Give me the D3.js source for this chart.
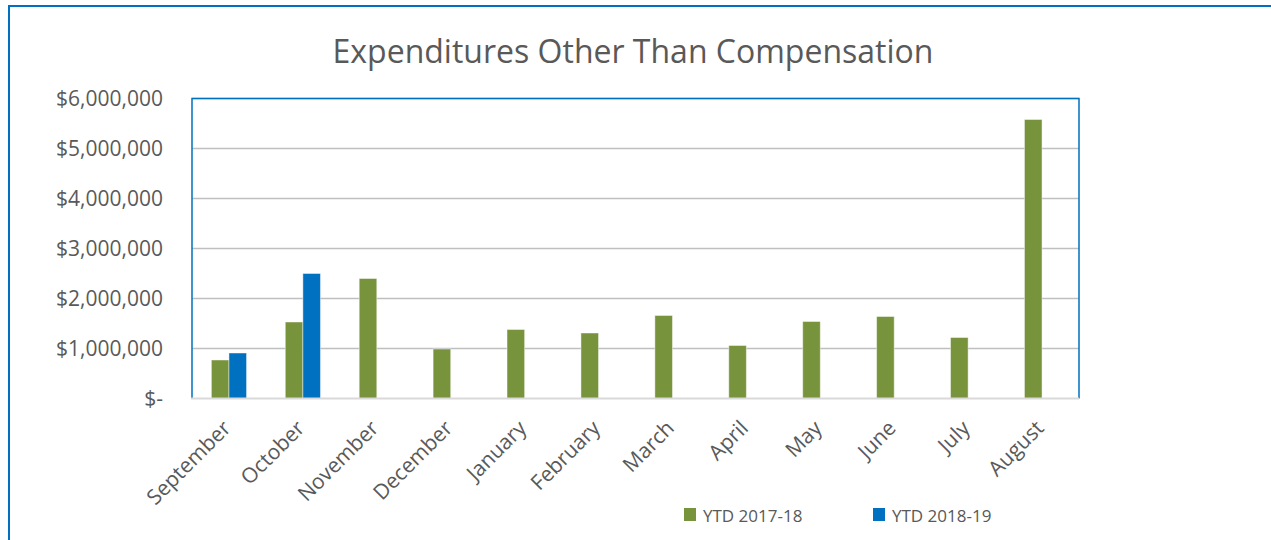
<!DOCTYPE html>
<html>
<head>
<meta charset="utf-8">
<script src="https://cdn.jsdelivr.net/npm/d3@7"></script>
<style>
  html, body { margin: 0; padding: 0; background: #fff; }
  svg { display: block; font-family: "Open Sans", sans-serif; }
</style>
</head>
<body>
<svg id="chart" width="1271" height="540"></svg>
<script>
const months = ["September","October","November","December","January","February","March","April","May","June","July","August"];
const seriesNames = ["YTD 2017-18", "YTD 2018-19"];
const ytd2017_18 = [770000, 1530000, 2400000, 990000, 1380000, 1310000, 1660000, 1060000, 1540000, 1640000, 1220000, 5580000];
const ytd2018_19 = [910000, 2500000, null, null, null, null, null, null, null, null, null, null];
const yTicks = [0, 1000000, 2000000, 3000000, 4000000, 5000000, 6000000];
const colors = ["#77933C", "#0070C0"];
const titleText = "Expenditures Other Than Compensation";

const svg = d3.select("#chart");
const W = 1271, H = 540;
const plot = {left: 192, right: 1079, top: 98.5, bottom: 398.5};

// outer frame
svg.append("rect").attr("x", 9).attr("y", 6).attr("width", W + 20).attr("height", H + 20)
  .attr("fill", "#fff").attr("stroke", "#0070C0").attr("stroke-width", 2);

// title
svg.append("text").attr("x", 633).attr("y", 63).attr("text-anchor", "middle")
  .attr("font-size", 32).attr("fill", "#595959").text(titleText);

const y = d3.scaleLinear().domain([0, 6000000]).range([plot.bottom, plot.top]);
const x0 = d3.scaleBand().domain(months).range([plot.left, plot.right])
  .paddingInner(0.524).paddingOuter(0.262);
const x1 = d3.scaleBand().domain(seriesNames).range([0, x0.bandwidth()]).padding(0);

// gridlines
svg.append("g").selectAll("line").data(yTicks.filter(d => d > 0)).join("line")
  .attr("x1", plot.left).attr("x2", plot.right)
  .attr("y1", d => y(d)).attr("y2", d => y(d))
  .attr("stroke", "#BFBFBF").attr("stroke-width", 1.5);

// y axis labels
const fmt = d => d === 0 ? "$-" : "$" + d3.format(",")(d);
const yAxis = d3.axisLeft(y).tickValues(yTicks).tickFormat(fmt).tickSize(0).tickPadding(29);
const yg = svg.append("g").attr("transform", `translate(${plot.left},0)`).call(yAxis);
yg.select(".domain").remove();
yg.selectAll("text").attr("font-size", 21).attr("fill", "#595959")
  .attr("font-family", "Open Sans, sans-serif");

// bars
const data = months.map((m, i) => ({month: m, vals: [ytd2017_18[i], ytd2018_19[i]]}));
const groups = svg.append("g").selectAll("g").data(data).join("g")
  .attr("transform", d => `translate(${x0(d.month)},0)`);
groups.selectAll("rect")
  .data(d => d.vals.map((v, j) => ({name: seriesNames[j], v, j})).filter(e => e.v != null))
  .join("rect")
  .attr("x", e => x1(e.name)).attr("width", x1.bandwidth())
  .attr("y", e => y(e.v)).attr("height", e => y(0) - y(e.v))
  .attr("fill", e => colors[e.j])
  .attr("stroke", "rgba(255,255,255,0.45)").attr("stroke-width", 1);

// plot border (left, top, right)
svg.append("path")
  .attr("d", `M${plot.left},${plot.bottom} V${plot.top} H${plot.right} V${plot.bottom}`)
  .attr("fill", "none").attr("stroke", "#0070C0").attr("stroke-width", 1.5);

// x axis baseline
svg.append("line").attr("x1", plot.left - 1).attr("x2", plot.right)
  .attr("y1", plot.bottom).attr("y2", plot.bottom)
  .attr("stroke", "#D9D9D9").attr("stroke-width", 2);

// x axis labels
const xAxis = d3.axisBottom(x0).tickSize(0).tickPadding(0);
const xg = svg.append("g").attr("transform", `translate(0,${plot.bottom})`).call(xAxis);
xg.select(".domain").remove();
xg.selectAll("text")
  .attr("font-size", 21).attr("fill", "#595959").attr("font-family", "Open Sans, sans-serif")
  .attr("text-anchor", "end").attr("dy", null).attr("y", 0)
  .attr("transform", "translate(3,31) rotate(-45)");

// legend
const legend = svg.append("g");
const legendX = [684, 873];
seriesNames.forEach((n, i) => {
  legend.append("rect").attr("x", legendX[i]).attr("y", 508).attr("width", 12).attr("height", 13)
    .attr("fill", colors[i]);
  legend.append("text").attr("x", legendX[i] + 19).attr("y", 522)
    .attr("font-size", 17).attr("fill", "#595959").text(n);
});
</script>
</body>
</html>
